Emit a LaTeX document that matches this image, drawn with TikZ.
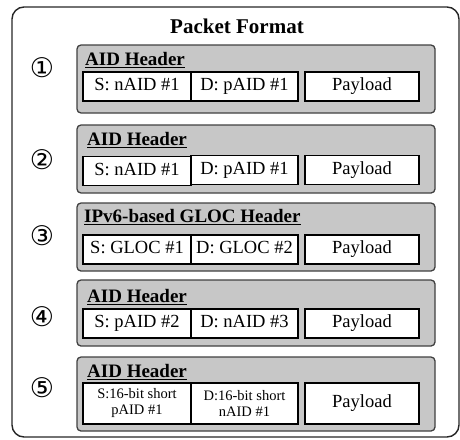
\documentclass[tikz,border=0pt]{standalone}
\usepackage{fontspec}
\setmainfont{Liberation Serif}
\newfontfamily\symfont{DejaVu Sans}
\begin{document}
\begin{tikzpicture}[x=1pt,y=-1pt,
  outer/.style={draw=black!85, line width=1.4pt, rounded corners=12pt},
  graybox/.style={draw=black!75, fill=black!22, line width=1.3pt, rounded corners=4pt,
     minimum width=358pt, inner sep=0pt},
  field/.style={draw=black, fill=white, line width=1.3pt, inner sep=0pt, minimum height=29pt,
     font=\fontsize{18.5}{20}\selectfont, align=center, text height=12.5pt, text depth=4pt},
  twoline/.style={text height=, text depth=, minimum height=41pt, font=\fontsize{14.5}{16}\selectfont},
  hdr/.style={anchor=west, font=\bfseries\fontsize{19}{21}\selectfont, inner sep=0pt},
  num/.style={font=\symfont\fontsize{27}{29}\selectfont, inner sep=0pt}
]
\useasboundingbox (0,0) rectangle (460,439);
\draw[outer] (12,7) rectangle (459,437);
\node[font=\bfseries\fontsize{21}{23}\selectfont] (title) at (237,26) {Packet Format};

% boxes
\node[graybox, minimum height=68pt] (b1) at (256,79) {};
\node[graybox, minimum height=68pt] (b2) at (256,159) {};
\node[graybox, minimum height=68pt] (b3) at (256,237) {};
\node[graybox, minimum height=66pt] (b4) at (256,313) {};
\node[graybox, minimum height=74pt] (b5) at (256,394) {};

% headers
\node[hdr] (h1) at (85,60) {\underline{AID Header}};
\node[hdr] (h2) at (87,140) {\underline{AID Header}};
\node[hdr] (h3) at (84,217) {\underline{IPv6-based GLOC Header}};
\node[hdr] (h4) at (87,297) {\underline{AID Header}};
\node[hdr] (h5) at (87,372) {\underline{AID Header}};

% numbers
\node[num] (n1) at (42,68) {①};
\node[num] (n2) at (42,160) {②};
\node[num] (n3) at (42,236) {③};
\node[num] (n4) at (42,317) {④};
\node[num] (n5) at (42,388) {⑤};

% fields
\node[field, minimum width=108pt] (s1) at (137,86.5) {S: nAID \#1};
\node[field, minimum width=107pt] (d1) at (244.5,86.5) {D: pAID \#1};
\node[field, minimum width=114pt] (p1) at (362,86.5) {Payload};

\node[field, minimum width=108pt] (s2) at (137,171) {S: nAID \#1};
\node[field, minimum width=107pt] (d2) at (244.5,170) {D: pAID \#1};
\node[field, minimum width=114pt] (p2) at (362,170) {Payload};

\node[field, minimum width=108pt] (s3) at (137,249.5) {S: GLOC \#1};
\node[field, minimum width=107pt] (d3) at (244.5,249.5) {D: GLOC \#2};
\node[field, minimum width=114pt] (p3) at (362,249.5) {Payload};

\node[field, minimum width=108pt] (s4) at (137,323.5) {S: pAID \#2};
\node[field, minimum width=107pt] (d4) at (244.5,323.5) {D: nAID \#3};
\node[field, minimum width=114pt] (p4) at (362,323.5) {Payload};

\node[field, twoline, minimum width=108pt] (s5) at (137,403.5) {S:16-bit short\\pAID \#1};
\node[field, twoline, minimum width=107pt] (d5) at (244.5,403.5) {D:16-bit short\\nAID \#1};
\node[field, minimum width=114pt, minimum height=41pt] (p5) at (362,403.5) {Payload};
\end{tikzpicture}
\end{document}
